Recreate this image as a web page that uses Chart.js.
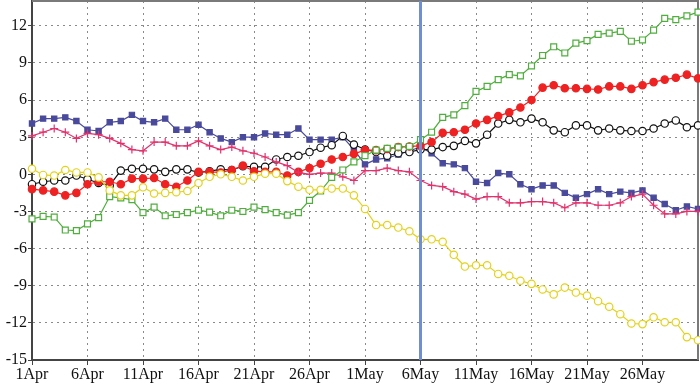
<!DOCTYPE html>
<html>
<head>
<meta charset="utf-8">
<script src="https://cdn.jsdelivr.net/npm/chart.js@4/dist/chart.umd.min.js"></script>
<style>
  html, body { margin: 0; padding: 0; background: #fff; }
  #wrap { width: 700px; height: 389px; }
</style>
</head>
<body>
<div id="wrap"><canvas id="graph" width="700" height="389"></canvas></div>
<script>
// days counted from 1 Apr (0) to 31 May (60)
var xTickValues = [0, 5, 10, 15, 20, 25, 30, 35, 40, 45, 50, 55];
var xTickLabels = ["1Apr", "6Apr", "11Apr", "16Apr", "21Apr", "26Apr", "1May", "6May", "11May", "16May", "21May", "26May"];
var yTickValues = [-15, -12, -9, -6, -3, 0, 3, 6, 9, 12];
var markerDay = 35; // 6May

var navy = [4.1, 4.5, 4.5, 4.6, 4.3, 3.6, 3.5, 4.2, 4.3, 4.8, 4.3, 4.2, 4.5, 3.6, 3.6, 4.0, 3.4, 2.9, 2.6,
  3.0, 3.0, 3.3, 3.2, 3.2, 3.7, 2.8, 2.8, 2.8, 3.0, 2.0, 0.8, 1.2, 1.3, 1.6, 1.9, 2.2,
  1.7, 0.9, 0.8, 0.5, -0.6, -0.7, 0.1, 0.0, -0.8, -1.2, -0.9, -0.9,
  -1.5, -1.9, -1.6, -1.2, -1.6, -1.4, -1.5, -1.3, -1.9, -2.4, -2.9, -2.6, -2.8];

var pink = [3.1, 3.4, 3.7, 3.4, 2.9, 3.3, 3.2, 2.9, 2.5, 2.0, 1.9, 2.6, 2.6, 2.3, 2.3, 2.7, 2.3, 2.0, 2.2,
  1.9, 1.7, 1.4, 1.0, 0.7, 0.15, 0.0, 0.1, 0.1, -0.2, -0.5, 0.3, 0.3, 0.5, 0.3, 0.2, -0.5,
  -0.9, -1.0, -1.4, -1.6, -2.0, -1.8, -1.8, -2.3, -2.3, -2.2, -2.2, -2.3,
  -2.7, -2.3, -2.3, -2.5, -2.5, -2.3, -1.8, -1.6, -2.5, -3.2, -3.2, -3.0, -3.0];

var black = [-0.8, -0.6, -0.5, -0.5, -0.1, -0.4, -0.7, -0.9, 0.3, 0.45, 0.45, 0.4, 0.2, 0.4, 0.4, 0.15, 0.25, 0.4, 0.35,
  0.65, 0.6, 0.6, 1.2, 1.4, 1.5, 1.8, 2.15, 2.35, 3.1, 2.4, 2.0, 1.8, 1.5, 1.7, 1.8, 2.0,
  2.0, 2.2, 2.3, 2.7, 2.5, 3.2, 4.1, 4.4, 4.2, 4.5, 4.2, 3.55,
  3.4, 3.95, 3.95, 3.55, 3.7, 3.55, 3.5, 3.5, 3.7, 4.1, 4.35, 3.8, 3.95];

var red = [-1.2, -1.3, -1.4, -1.7, -1.5, -0.8, -0.6, -0.6, -0.8, -0.35, -0.35, -0.3, -0.8, -1.0, -0.5, 0.2, 0.2, 0.15, 0.35,
  0.7, 0.25, 0.2, 0.2, -0.1, 0.2, 0.5, 0.85, 1.2, 1.4, 1.65, 1.95, 1.95, 2.05, 2.2, 2.25, 2.3,
  2.6, 3.35, 3.4, 3.6, 4.1, 4.4, 4.7, 5.0, 5.4, 6.0, 7.0, 7.2,
  6.95, 6.95, 6.9, 6.85, 7.1, 7.1, 6.9, 7.2, 7.45, 7.65, 7.8, 8.05, 7.75];

var green = [-3.6, -3.4, -3.45, -4.5, -4.55, -4.0, -3.5, -1.8, -1.9, -2.05, -3.1, -2.65, -3.35, -3.25, -3.1, -2.9, -3.05, -3.35, -2.9,
  -3.0, -2.65, -2.85, -3.1, -3.3, -3.1, -2.1, -1.35, -0.25, 0.35, 1.0, 1.5, 1.95, 2.1, 2.2, 2.25, 2.8,
  3.4, 4.6, 4.8, 5.55, 6.7, 7.1, 7.65, 8.05, 7.95, 8.75, 9.6, 10.3,
  9.8, 10.6, 10.8, 11.3, 11.4, 11.55, 10.75, 10.85, 11.65, 12.6, 12.5, 12.8, 13.1];

var yellow = [0.45, -0.05, -0.1, 0.35, 0.15, 0.15, -0.25, -1.3, -1.7, -1.7, -1.05, -1.55, -1.5, -1.45, -1.35, -0.7, -0.2, 0.0, -0.2,
  -0.5, -0.2, 0.05, 0.05, -0.55, -1.0, -1.25, -1.25, -1.15, -1.15, -1.7, -2.8, -4.1, -4.1, -4.3, -4.6, -5.25,
  -5.25, -5.45, -6.5, -7.45, -7.35, -7.35, -8.05, -8.2, -8.6, -8.85, -9.3, -9.7,
  -9.15, -9.55, -9.8, -10.25, -10.7, -11.3, -12.05, -12.1, -11.55, -11.95, -11.95, -13.15, -13.4];

function toPoints(arr) {
  return arr.map(function (v, i) { return { x: i, y: v }; });
}

function series(label, arr, color, style, fill, radius) {
  return {
    label: label,
    data: toPoints(arr),
    borderColor: color,
    backgroundColor: fill,
    borderWidth: 1.2,
    pointStyle: style,
    pointRadius: radius,
    pointBorderWidth: 1.2,
    pointBorderColor: color,
    pointBackgroundColor: fill,
    tension: 0,
    clip: false
  };
}

// frame on top/right and the 6May marker line
var framePlugin = {
  id: "frame",
  beforeDatasetsDraw: function (c) {
    var a = c.chartArea, ctx = c.ctx;
    ctx.save();
    ctx.strokeStyle = "#7a7a7a";
    ctx.lineWidth = 2;
    ctx.beginPath();
    ctx.moveTo(a.left, a.top);
    ctx.lineTo(a.right, a.top);
    ctx.lineTo(a.right, a.bottom);
    ctx.stroke();
    ctx.restore();
  },
  afterDatasetsDraw: function (c) {
    var a = c.chartArea, ctx = c.ctx;
    var px = c.scales.x.getPixelForValue(markerDay);
    ctx.save();
    ctx.strokeStyle = "#6f8fd2";
    ctx.lineWidth = 3;
    ctx.beginPath();
    ctx.moveTo(px, a.top);
    ctx.lineTo(px, a.bottom);
    ctx.stroke();
    ctx.restore();
  }
};

var serif = "'Liberation Serif', 'Times New Roman', serif";

var ctx = document.getElementById("graph").getContext("2d");
var chart = new Chart(ctx, {
  type: "line",
  data: {
    datasets: [
      series("yellow", yellow, "#e3d21c", "circle", "#ffffff", 3.7),
      series("green", green, "#4fae3c", "rect", "#ffffff", 4.2),
      series("pink", pink, "#e0336e", "cross", "#e0336e", 4),
      series("red", red, "#ee2222", "circle", "#ee2222", 3.7),
      series("black", black, "#111111", "circle", "#ffffff", 3.7),
      series("navy", navy, "#4a4a9c", "rect", "#4a4a9c", 3.7)
    ]
  },
  options: {
    responsive: false,
    animation: false,
    layout: { autoPadding: false, padding: { top: 1, right: 2, left: 0, bottom: 0 } },
    plugins: { legend: { display: false }, tooltip: { enabled: false } },
    scales: {
      x: {
        type: "linear",
        min: 0,
        max: 60,
        afterBuildTicks: function (scale) {
          scale.ticks = xTickValues.map(function (v) { return { value: v }; });
        },
        afterFit: function (scale) {
          scale.height = 29;
          scale.paddingLeft = 0;
          scale.paddingRight = 0;
        },
        ticks: {
          autoSkip: false,
          maxRotation: 0,
          padding: 0,
          color: "#111",
          font: { family: serif, size: 16 },
          callback: function (v, i) { return xTickLabels[i]; }
        },
        grid: { color: "#8a8a8a", lineWidth: 1, tickLength: 5, tickColor: "#444", tickWidth: 1 },
        border: { color: "#444", width: 2, dash: [2, 4] }
      },
      y: {
        type: "linear",
        min: -15,
        max: 14,
        afterBuildTicks: function (scale) {
          scale.ticks = yTickValues.map(function (v) { return { value: v }; });
        },
        afterFit: function (scale) {
          scale.width = 32;
          scale.paddingTop = 0;
          scale.paddingBottom = 0;
        },
        ticks: {
          padding: 1,
          color: "#111",
          font: { family: serif, size: 16 }
        },
        grid: { color: "#8a8a8a", lineWidth: 1, tickLength: 4, tickColor: "#444", tickWidth: 1 },
        border: { color: "#444", width: 2, dash: [2, 4] }
      }
    }
  },
  plugins: [framePlugin]
});
</script>
</body>
</html>
